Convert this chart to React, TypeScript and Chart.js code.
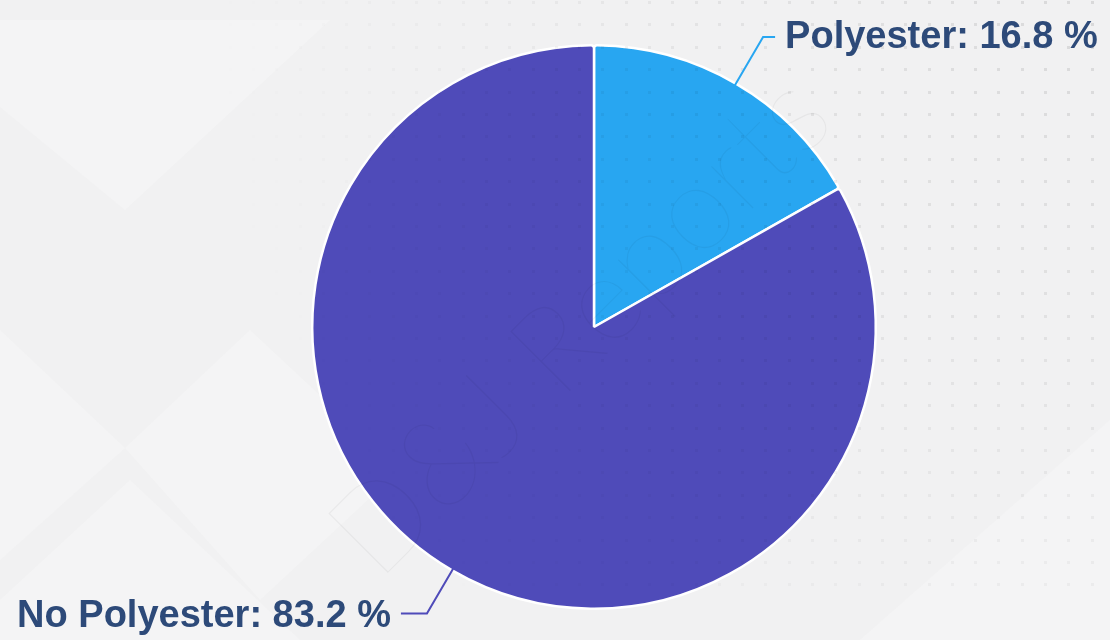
import React, { useEffect, useRef } from "react";
import { Chart, registerables } from "chart.js";

Chart.register(...registerables);

const categories: string[] = ["Polyester", "No Polyester"];
const shares: number[] = [16.8, 83.2];
const sliceColors: string[] = ["#28A6F1", "#4F4BB9"];
const labelColor = "#2D4A79";
const watermarkText = "D&J Reports";

const backgroundPlugin = {
  id: "bgPlugin",
  beforeDraw(chart: any) {
    const { ctx, width, height } = chart;
    ctx.save();
    ctx.fillStyle = "#F1F1F2";
    ctx.fillRect(0, 0, width, height);
    ctx.fillStyle = "rgba(255,255,255,0.22)";
    const polys: number[][][] = [
      [[0, 107], [125, 210], [330, 20], [0, 20]],
      [[0, 330], [125, 448], [0, 560]],
      [[125, 448], [250, 330], [400, 470], [260, 600]],
      [[0, 600], [130, 480], [300, 640], [0, 640]],
      [[860, 640], [1110, 420], [1110, 640]],
    ];
    polys.forEach((p) => {
      ctx.beginPath();
      p.forEach(([x, y], i) => (i === 0 ? ctx.moveTo(x, y) : ctx.lineTo(x, y)));
      ctx.closePath();
      ctx.fill();
    });
    ctx.restore();
  },
};

const overlayPlugin = {
  id: "overlayPlugin",
  afterDatasetsDraw(chart: any) {
    const { ctx, width } = chart;
    ctx.save();
    for (let y = 2; y < 600; y += 22.4) {
      for (let x = 882 - 23.3 * 28; x < width; x += 23.3) {
        if (x < 0) continue;
        const d = Math.hypot(width - x, y);
        const fade = Math.max(0, 1 - d / 900);
        if (fade <= 0) continue;
        ctx.fillStyle = `rgba(0,0,0,${(0.1 * fade).toFixed(3)})`;
        ctx.fillRect(Math.round(x) - 1, Math.round(y) - 1, 3, 3);
      }
    }
    ctx.translate(378, 583);
    ctx.rotate(-Math.PI / 4);
    let size = 120;
    ctx.font = `100 ${size}px Lato, Roboto, "DejaVu Sans", sans-serif`;
    const w = ctx.measureText(watermarkText).width;
    size = (size * 650) / w;
    ctx.font = `100 ${size}px Lato, Roboto, "DejaVu Sans", sans-serif`;
    ctx.fillStyle = "rgba(0,0,0,0.045)";
    ctx.textBaseline = "alphabetic";
    ctx.textAlign = "left";
    ctx.fillText(watermarkText, 0, 0);
    ctx.restore();
  },
};

const labelPlugin = {
  id: "labelPlugin",
  afterDraw(chart: any) {
    const { ctx } = chart;
    const meta = chart.getDatasetMeta(0);
    ctx.save();
    meta.data.forEach((arc: any, i: number) => {
      const { x, y, startAngle, endAngle, outerRadius } = arc.getProps(
        ["x", "y", "startAngle", "endAngle", "outerRadius"],
        true
      );
      const mid = (startAngle + endAngle) / 2;
      const c = Math.cos(mid);
      const s = Math.sin(mid);
      const dir = c >= 0 ? 1 : -1;
      const ext = dir > 0 ? 54 : 50;
      const hor = dir > 0 ? 12 : 26;
      const dy = dir > 0 ? 1 : 3;
      const x0 = x + c * (outerRadius - 4);
      const y0 = y + s * (outerRadius - 4);
      const x1 = x + c * (outerRadius + ext);
      const y1 = y + s * (outerRadius + ext);
      const x2 = x1 + dir * hor;
      ctx.strokeStyle = sliceColors[i];
      ctx.lineWidth = 2;
      ctx.beginPath();
      ctx.moveTo(x0, y0);
      ctx.lineTo(x1, y1);
      ctx.lineTo(x2, y1);
      ctx.stroke();
      ctx.font = `bold 38px "Liberation Sans", Arial, sans-serif`;
      ctx.fillStyle = labelColor;
      ctx.textAlign = dir > 0 ? "left" : "right";
      ctx.textBaseline = "middle";
      const txt = `${categories[i]}: ${shares[i].toFixed(1)} %`;
      ctx.fillText(txt, x2 + dir * 10, y1 + dy);
    });
    ctx.restore();
  },
};

export default function App() {
  const ref = useRef<HTMLCanvasElement | null>(null);
  useEffect(() => {
    if (!ref.current) return;
    const chart = new Chart(ref.current, {
      type: "pie",
      data: {
        labels: categories,
        datasets: [
          {
            data: shares,
            backgroundColor: sliceColors,
            borderColor: "#FFFFFF",
            borderWidth: 2.5,
            borderRadius: 3,
            hoverOffset: 0,
          },
        ],
      },
      options: {
        responsive: false,
        animation: false,
        events: [],
        layout: { padding: { left: 311, right: 233, top: 44, bottom: 30 } },
        plugins: {
          legend: { display: false },
          tooltip: { enabled: false },
        },
      },
      plugins: [backgroundPlugin, overlayPlugin, labelPlugin],
    });
    return () => chart.destroy();
  }, []);
  return (
    <div style={{ position: "absolute", left: 0, top: 0, width: 1110, height: 640 }}>
      <canvas ref={ref} width={1110} height={640} style={{ display: "block" }} />
    </div>
  );
}
